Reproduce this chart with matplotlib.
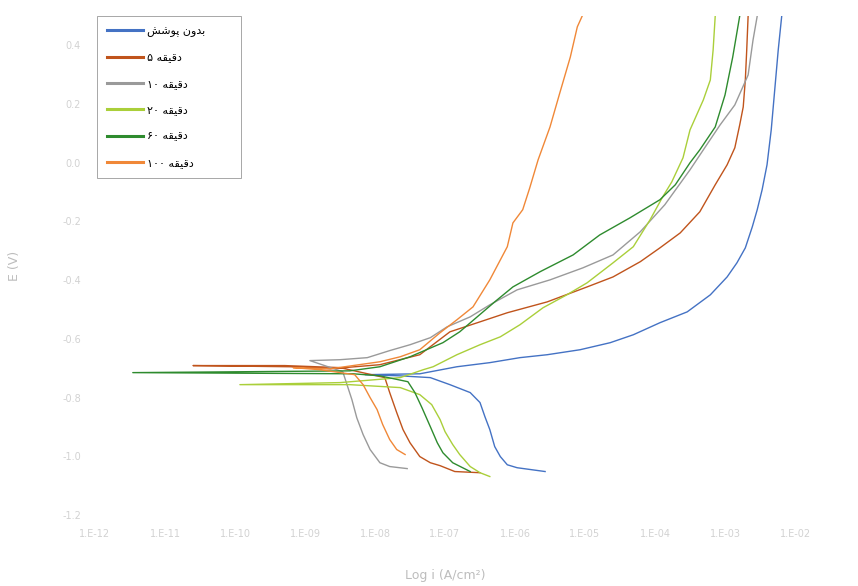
import numpy as np
import matplotlib.pyplot as plt
from matplotlib.ticker import FixedLocator, FuncFormatter

# Tafel polarization curves: log(i) [A/cm2] and E [V]
# each series: cathodic branch -> spike at Ecorr -> anodic branch

blue_logi = [-5.57, -5.97, -6.11, -6.21, -6.29, -6.36, -6.43, -6.50, -6.64, -6.93, -7.21, -7.64,
             -8.14,
             -7.36, -6.83, -6.36, -5.93, -5.54, -5.07, -4.64, -4.31, -3.93, -3.54, -3.21, -2.97,
             -2.83, -2.71, -2.61, -2.54, -2.47, -2.40, -2.34, -2.29, -2.24, -2.19]
blue_E = [-1.052, -1.039, -1.029, -1.001, -0.967, -0.909, -0.865, -0.817, -0.783, -0.756, -0.732, -0.726,
          -0.722,
          -0.719, -0.695, -0.681, -0.664, -0.654, -0.637, -0.613, -0.586, -0.545, -0.508, -0.450, -0.389,
          -0.341, -0.290, -0.218, -0.160, -0.092, -0.007, 0.112, 0.248, 0.384, 0.50]

min5_logi = [-6.50, -6.86, -7.07, -7.21, -7.36, -7.50, -7.60, -7.69, -7.79, -7.86, -8.50,
             -9.29, -10.60, -9.21,
             -8.64, -7.93, -7.36, -6.93, -6.50, -6.11, -5.54, -4.97, -4.60, -4.21, -3.93, -3.64,
             -3.36, -3.14, -2.97, -2.86, -2.79, -2.74, -2.71, -2.69, -2.67]
min5_E = [-1.056, -1.052, -1.032, -1.022, -1.001, -0.954, -0.909, -0.851, -0.783, -0.732, -0.698,
          -0.691, -0.691, -0.695,
          -0.702, -0.688, -0.654, -0.576, -0.542, -0.511, -0.474, -0.423, -0.389, -0.337, -0.290, -0.239,
          -0.167, -0.075, -0.007, 0.051, 0.129, 0.190, 0.282, 0.384, 0.50]

min10_logi = [-7.54, -7.79, -7.93, -8.07, -8.17, -8.26, -8.33, -8.40, -8.46,
              -8.93,
              -8.50, -8.11, -7.79, -7.50, -7.21, -6.97, -6.64, -6.36, -5.97, -5.50, -5.03, -4.60,
              -4.21, -3.86, -3.50, -3.29, -3.07, -2.86, -2.67, -2.60, -2.54]
min10_E = [-1.042, -1.035, -1.022, -0.977, -0.926, -0.869, -0.807, -0.756, -0.712,
           -0.674,
           -0.671, -0.664, -0.640, -0.620, -0.596, -0.559, -0.525, -0.484, -0.433, -0.399, -0.358, -0.314,
           -0.235, -0.143, -0.024, 0.051, 0.129, 0.197, 0.299, 0.418, 0.50]

min20_logi = [-6.36, -6.50, -6.64, -6.79, -6.89, -7.00, -7.07, -7.19, -7.36, -7.64, -8.36,
              -9.93, -8.50,
              -7.64, -7.31, -7.17, -6.83, -6.50, -6.21, -5.93, -5.60, -5.26, -4.97, -4.60, -4.31,
              -4.07, -3.89, -3.76, -3.60, -3.50, -3.31, -3.21, -3.17, -3.14]
min20_E = [-1.069, -1.056, -1.035, -0.994, -0.960, -0.916, -0.875, -0.824, -0.790, -0.766, -0.756,
           -0.756, -0.749,
           -0.732, -0.705, -0.695, -0.654, -0.620, -0.593, -0.552, -0.494, -0.450, -0.409, -0.341, -0.286,
           -0.194, -0.116, -0.065, 0.017, 0.112, 0.214, 0.282, 0.384, 0.50]

min60_logi = [-6.64, -6.89, -7.03, -7.11, -7.21, -7.33, -7.43, -7.53, -7.93, -8.31,
              -11.46, -8.36,
              -7.93, -7.50, -7.03, -6.79, -6.54, -6.29, -6.03, -5.64, -5.17, -4.79, -4.36, -3.93,
              -3.71, -3.50, -3.36, -3.14, -3.00, -2.89, -2.79]
min60_E = [-1.052, -1.022, -0.988, -0.954, -0.899, -0.834, -0.783, -0.746, -0.726, -0.719,
           -0.715, -0.709,
           -0.695, -0.661, -0.613, -0.576, -0.525, -0.474, -0.423, -0.371, -0.314, -0.246, -0.188, -0.126,
           -0.075, 0.0, 0.044, 0.122, 0.231, 0.360, 0.50]

min100_logi = [-7.57, -7.69, -7.79, -7.89, -7.97, -8.07, -8.17, -8.29, -8.79,
               -9.17, -8.64,
               -7.93, -7.64, -7.36, -7.07, -6.83, -6.60, -6.36, -6.11, -6.03, -5.89, -5.79, -5.67,
               -5.50, -5.36, -5.21, -5.11, -5.04]
min100_E = [-0.994, -0.977, -0.943, -0.892, -0.841, -0.800, -0.756, -0.722, -0.705,
            -0.698, -0.702,
            -0.678, -0.661, -0.637, -0.579, -0.535, -0.491, -0.399, -0.286, -0.205, -0.160, -0.086, 0.010,
            0.122, 0.238, 0.360, 0.463, 0.50]

# legend labels (Persian, written in visual order with presentation forms)
WORD_MIN = '\uFEEA\uFED8\uFEF4\uFED7\uFEA9'
labels = ['\uFEB6\uFEB7\uFEEE\uFB58 \uFEE5\uFEED\uFEAA\uFE91',
          '\u06F5 ' + WORD_MIN,
          '\u06F1\u06F0 ' + WORD_MIN,
          '\u06F2\u06F0 ' + WORD_MIN,
          '\u06F6\u06F0 ' + WORD_MIN,
          '\u06F1\u06F0\u06F0 ' + WORD_MIN]
colors = ['#4472C4', '#C0541C', '#9A9A9A', '#AACF3A', '#2E8B2E', '#F08838']

series = [(blue_logi, blue_E), (min5_logi, min5_E), (min10_logi, min10_E),
          (min20_logi, min20_E), (min60_logi, min60_E), (min100_logi, min100_E)]

x_ticks = list(range(-12, -1))
y_ticks = [-1.2, -1.0, -0.8, -0.6, -0.4, -0.2, 0.0, 0.2, 0.4]

fig = plt.figure(figsize=(8.58, 5.86), dpi=100)
ax = fig.add_axes([0.1107, 0.1212, 0.8159, 0.8515])

for (lx, e), c, lab in zip(series, colors, labels):
    ax.plot(10.0 ** np.array(lx), e, color=c, lw=1.0, label=lab)

ax.set_xscale('log')
ax.set_xlim(1e-12, 1e-2)
ax.set_ylim(-1.2, 0.5)
ax.xaxis.set_major_locator(FixedLocator([10.0 ** k for k in x_ticks]))
ax.xaxis.set_minor_locator(FixedLocator([]))
ax.xaxis.set_major_formatter(FuncFormatter(lambda v, p: '1.E%03d' % round(np.log10(v))))
ax.yaxis.set_major_locator(FixedLocator(y_ticks))
ax.yaxis.set_major_formatter(FuncFormatter(lambda v, p: '%.1f' % v))

for s in ax.spines.values():
    s.set_visible(False)
ax.tick_params(length=0, labelsize=7, labelcolor='#d2d2d2', pad=10)

ax.set_xlabel('Log i (A/cm\u00b2)', fontsize=9, color='#bdbdbd', labelpad=22)
ax.set_ylabel('E (V)', fontsize=9, color='#bdbdbd', labelpad=30)

leg = ax.legend(loc='upper left', bbox_to_anchor=(0.003, 1.0, 0.205, 0.0), mode='expand',
                borderaxespad=0, labelspacing=1.45, borderpad=0.9, handlelength=3.2,
                handletextpad=0.4, fancybox=False, framealpha=1.0,
                prop={'family': ['DejaVu Sans'], 'size': 8})
leg.get_frame().set_edgecolor('#999999')
leg.get_frame().set_linewidth(0.6)
for h in leg.get_lines():
    h.set_linewidth(2.2)

fig.savefig('out.png', dpi=100)
